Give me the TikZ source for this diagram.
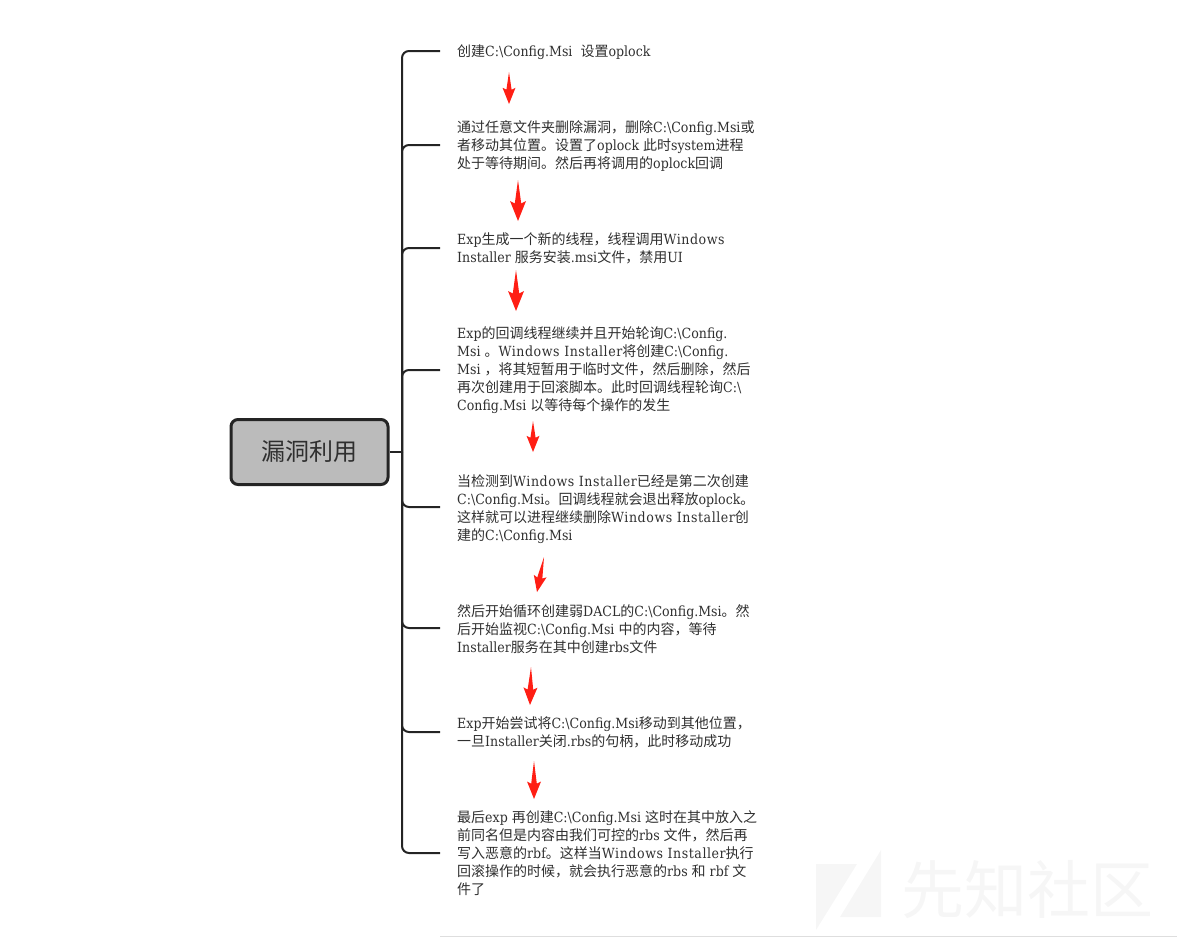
\documentclass[tikz,border=0pt]{standalone}
\usepackage{fontspec}
\setmainfont{DejaVu Serif Condensed}
\newfontfamily\cjk{Noto Sans CJK SC}
\newfontface\widefont[LetterSpace=4]{DejaVu Serif Condensed}
\usetikzlibrary{calc}
\definecolor{linedark}{HTML}{242424}
\definecolor{textdark}{HTML}{2F2F2F}
\definecolor{rootfill}{HTML}{BBBBBB}
\definecolor{flowred}{HTML}{FF1E14}
\definecolor{markgray}{HTML}{F6F6F6}
\newcommand{\zh}[1]{{\cjk #1}}
\newcommand{\cmsi}{C:\textbackslash Config.Msi}
\newcommand{\wi}[1]{{\widefont #1}}
\tikzset{
  rootbox/.style={draw=linedark,fill=rootfill,line width=3pt,rounded corners=7pt,minimum width=157pt,minimum height=65pt,inner sep=0pt,text=textdark},
  step text/.style={anchor=north west,align=left,inner sep=0pt,text=textdark,font=\fontsize{14}{18}\selectfont},
  branch/.style={draw=linedark,line width=2pt,rounded corners=7pt},
  flow/.style={fill=flowred,to path={
    --($(\tikztotarget)!#1*2.2pt!(\tikztostart)!#1*0.4pt!90:(\tikztostart)$)
    --($(\tikztotarget)!#1*2.5pt!(\tikztostart)!#1*1pt!90:(\tikztostart)$)
    --(\tikztotarget)
    --($(\tikztotarget)!#1*2.5pt!(\tikztostart)!#1*1pt!-90:(\tikztostart)$)
    --($(\tikztotarget)!#1*2.2pt!(\tikztostart)!#1*0.4pt!-90:(\tikztostart)$)
    --cycle}},
  flow/.default=6.5
}
\begin{document}
\begin{tikzpicture}[x=1pt,y=-1pt]
    \useasboundingbox (0,0) rectangle (1177,937);

    \fill[markgray] (816,864)--(857,864)--(816,930)--cycle;
    \fill[markgray] (881,850)--(881,917)--(840,917)--cycle;
    \node[inner sep=0pt,text=markgray] (mark) at (1027,890){\fontsize{63}{63}\cjk 先知社区};
    \draw[draw=black!13,line width=1pt] (440,936.5)--(1177,936.5);

    \node[rootbox] (root) at (309.5,452){\fontsize{24}{30}\cjk 漏洞利用};

    \node[step text] (s1) at (457,45){\zh{创建}\cmsi\ \ \zh{设置}oplock};
    \node[step text] (s2) at (457,120){\zh{通过任意文件夹删除漏洞，删除}\cmsi\zh{或}\\
      \zh{者移动其位置。设置了}oplock \zh{此时}system\zh{进程}\\
      \zh{处于等待期间。然后再将调用的}oplock\zh{回调}};
    \node[step text] (s3) at (457,232){Exp\zh{生成一个新的线程，线程调用}\wi{Windows}\\
      Installer \zh{服务安装}.msi\zh{文件，禁用}UI};
    \node[step text] (s4) at (457,326){Exp\zh{的回调线程继续并且开始轮询}C:\textbackslash Config.\\
      Msi \zh{。}\wi{Windows Installer}\zh{将创建}C:\textbackslash Config.\\
      Msi \zh{，将其短暂用于临时文件，然后删除，然后}\\
      \zh{再次创建用于回滚脚本。此时回调线程轮询}C:\textbackslash\\
      Config.Msi \zh{以等待每个操作的发生}};
    \node[step text] (s5) at (457,474){\zh{当检测到}\wi{Windows Installer}\zh{已经是第二次创建}\\
      \cmsi\zh{。回调线程就会退出释放}oplock\zh{。}\\
      \zh{这样就可以进程继续删除}\wi{Windows Installer}\zh{创}\\
      \zh{建的}\cmsi};
    \node[step text] (s6) at (457,604){\zh{然后开始循环创建弱}DACL\zh{的}\cmsi\zh{。然}\\
      \zh{后开始监视}\cmsi\ \zh{中的内容，等待}\\
      Installer\zh{服务在其中创建}rbs\zh{文件}};
    \node[step text] (s7) at (457,716){Exp\zh{开始尝试将}\cmsi\zh{移动到其他位置，}\\
      \zh{一旦}Installer\zh{关闭}.rbs\zh{的句柄，此时移动成功}};
    \node[step text] (s8) at (457,810){\zh{最后}exp \zh{再创建}\cmsi\ \zh{这时在其中放入之}\\
      \zh{前同名但是内容由我们可控的}rbs \zh{文件，然后再}\\
      \zh{写入恶意的}rbf\zh{。这样当}\wi{Windows Installer}\zh{执行}\\
      \zh{回滚操作的时候，就会执行恶意的}rbs \zh{和} rbf \zh{文}\\
      \zh{件了}};

    \coordinate (J) at (402,452);
    \coordinate (B1) at (440,51);
    \coordinate (B2) at (440,145);
    \coordinate (B3) at (440,248);
    \coordinate (B4) at (440,370);
    \coordinate (B5) at (440,507);
    \coordinate (B6) at (440,628);
    \coordinate (B7) at (440,732);
    \coordinate (B8) at (440,853);

    \draw[branch] (root.east)--(J);
    \draw[branch] (J)|-(B1);
    \draw[branch] (J)|-(B2);
    \draw[branch] (J)|-(B3);
    \draw[branch] (J)|-(B4);
    \draw[branch] (J)|-(B5);
    \draw[branch] (J)|-(B6);
    \draw[branch] (J)|-(B7);
    \draw[branch] (J)|-(B8);

    \coordinate (A1) at (509,72);
    \coordinate (E1) at (509,104);
    \coordinate (A2) at (518,180);
    \coordinate (E2) at (518,221);
    \coordinate (A3) at (516,270);
    \coordinate (E3) at (516,311);
    \coordinate (A4) at (533,421);
    \coordinate (E4) at (533,452);
    \coordinate (A5) at (544,557);
    \coordinate (E5) at (537,592);
    \coordinate (A6) at (531,667);
    \coordinate (E6) at (530,705);
    \coordinate (A7) at (534,761);
    \coordinate (E7) at (534,799);

    \fill[flow] (A1) to (E1);
    \fill[flow=8] (A2) to (E2);
    \fill[flow=8] (A3) to (E3);
    \fill[flow] (A4) to (E4);
    \fill[flow] (A5) to (E5);
    \fill[flow=7] (A6) to (E6);
    \fill[flow=7] (A7) to (E7);
\end{tikzpicture}
\end{document}
